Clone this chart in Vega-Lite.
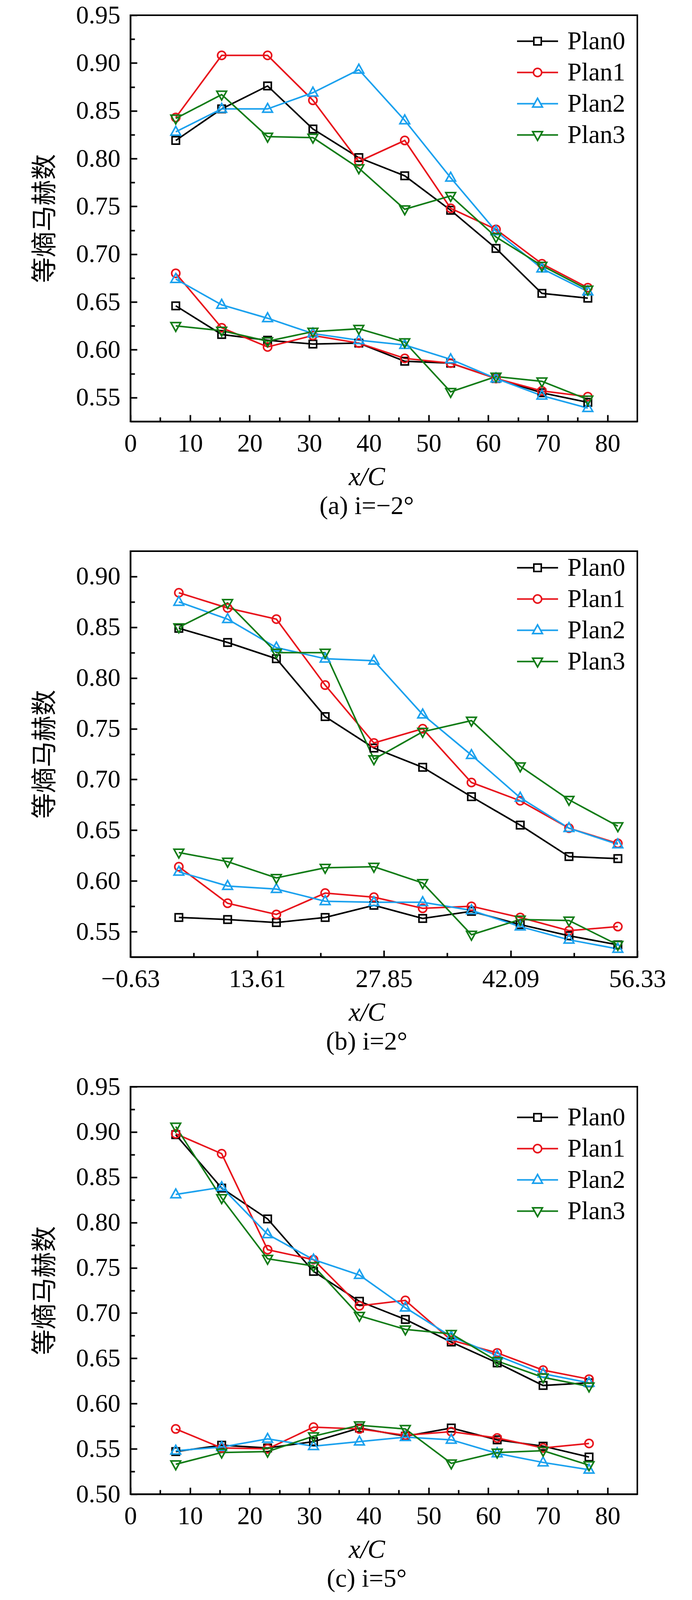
{
  "$schema": "https://vega.github.io/schema/vega-lite/v6.json",
  "background": "white",
  "padding": {"left": 80, "top": 5, "right": 10, "bottom": 0},
  "datasets": {
    "mach": [
      {"p": "a", "plan": "Plan0", "x": 7.6, "hi": 0.819, "lo": 0.646},
      {"p": "a", "plan": "Plan0", "x": 15.3, "hi": 0.852, "lo": 0.616},
      {"p": "a", "plan": "Plan0", "x": 23.0, "hi": 0.876, "lo": 0.610},
      {"p": "a", "plan": "Plan0", "x": 30.6, "hi": 0.831, "lo": 0.606},
      {"p": "a", "plan": "Plan0", "x": 38.3, "hi": 0.801, "lo": 0.607},
      {"p": "a", "plan": "Plan0", "x": 46.0, "hi": 0.782, "lo": 0.588},
      {"p": "a", "plan": "Plan0", "x": 53.7, "hi": 0.746, "lo": 0.586},
      {"p": "a", "plan": "Plan0", "x": 61.3, "hi": 0.706, "lo": 0.570},
      {"p": "a", "plan": "Plan0", "x": 69.0, "hi": 0.659, "lo": 0.555},
      {"p": "a", "plan": "Plan0", "x": 76.7, "hi": 0.654, "lo": 0.545},
      {"p": "a", "plan": "Plan1", "x": 7.6, "hi": 0.843, "lo": 0.680},
      {"p": "a", "plan": "Plan1", "x": 15.3, "hi": 0.908, "lo": 0.623},
      {"p": "a", "plan": "Plan1", "x": 23.0, "hi": 0.908, "lo": 0.603},
      {"p": "a", "plan": "Plan1", "x": 30.6, "hi": 0.861, "lo": 0.615},
      {"p": "a", "plan": "Plan1", "x": 38.3, "hi": 0.797, "lo": 0.607},
      {"p": "a", "plan": "Plan1", "x": 46.0, "hi": 0.819, "lo": 0.591},
      {"p": "a", "plan": "Plan1", "x": 53.7, "hi": 0.748, "lo": 0.586},
      {"p": "a", "plan": "Plan1", "x": 61.3, "hi": 0.726, "lo": 0.570},
      {"p": "a", "plan": "Plan1", "x": 69.0, "hi": 0.690, "lo": 0.557},
      {"p": "a", "plan": "Plan1", "x": 76.7, "hi": 0.665, "lo": 0.551},
      {"p": "a", "plan": "Plan2", "x": 7.6, "hi": 0.828, "lo": 0.674},
      {"p": "a", "plan": "Plan2", "x": 15.3, "hi": 0.852, "lo": 0.647},
      {"p": "a", "plan": "Plan2", "x": 23.0, "hi": 0.852, "lo": 0.633},
      {"p": "a", "plan": "Plan2", "x": 30.6, "hi": 0.869, "lo": 0.617},
      {"p": "a", "plan": "Plan2", "x": 38.3, "hi": 0.893, "lo": 0.610},
      {"p": "a", "plan": "Plan2", "x": 46.0, "hi": 0.840, "lo": 0.605},
      {"p": "a", "plan": "Plan2", "x": 53.7, "hi": 0.780, "lo": 0.590},
      {"p": "a", "plan": "Plan2", "x": 61.3, "hi": 0.724, "lo": 0.570},
      {"p": "a", "plan": "Plan2", "x": 69.0, "hi": 0.685, "lo": 0.552},
      {"p": "a", "plan": "Plan2", "x": 76.7, "hi": 0.661, "lo": 0.539},
      {"p": "a", "plan": "Plan3", "x": 7.6, "hi": 0.842, "lo": 0.625},
      {"p": "a", "plan": "Plan3", "x": 15.3, "hi": 0.867, "lo": 0.620},
      {"p": "a", "plan": "Plan3", "x": 23.0, "hi": 0.823, "lo": 0.609},
      {"p": "a", "plan": "Plan3", "x": 30.6, "hi": 0.822, "lo": 0.619},
      {"p": "a", "plan": "Plan3", "x": 38.3, "hi": 0.790, "lo": 0.622},
      {"p": "a", "plan": "Plan3", "x": 46.0, "hi": 0.747, "lo": 0.608},
      {"p": "a", "plan": "Plan3", "x": 53.7, "hi": 0.761, "lo": 0.556},
      {"p": "a", "plan": "Plan3", "x": 61.3, "hi": 0.718, "lo": 0.572},
      {"p": "a", "plan": "Plan3", "x": 69.0, "hi": 0.688, "lo": 0.567},
      {"p": "a", "plan": "Plan3", "x": 76.7, "hi": 0.663, "lo": 0.548},

      {"p": "b", "plan": "Plan0", "x": 4.81, "hi": 0.849, "lo": 0.564},
      {"p": "b", "plan": "Plan0", "x": 10.29, "hi": 0.835, "lo": 0.562},
      {"p": "b", "plan": "Plan0", "x": 15.77, "hi": 0.819, "lo": 0.559},
      {"p": "b", "plan": "Plan0", "x": 21.25, "hi": 0.762, "lo": 0.564},
      {"p": "b", "plan": "Plan0", "x": 26.73, "hi": 0.731, "lo": 0.576},
      {"p": "b", "plan": "Plan0", "x": 32.21, "hi": 0.712, "lo": 0.563},
      {"p": "b", "plan": "Plan0", "x": 37.69, "hi": 0.683, "lo": 0.570},
      {"p": "b", "plan": "Plan0", "x": 43.17, "hi": 0.655, "lo": 0.557},
      {"p": "b", "plan": "Plan0", "x": 48.65, "hi": 0.624, "lo": 0.546},
      {"p": "b", "plan": "Plan0", "x": 54.14, "hi": 0.622, "lo": 0.537},
      {"p": "b", "plan": "Plan1", "x": 4.81, "hi": 0.884, "lo": 0.614},
      {"p": "b", "plan": "Plan1", "x": 10.29, "hi": 0.869, "lo": 0.578},
      {"p": "b", "plan": "Plan1", "x": 15.77, "hi": 0.858, "lo": 0.567},
      {"p": "b", "plan": "Plan1", "x": 21.25, "hi": 0.793, "lo": 0.588},
      {"p": "b", "plan": "Plan1", "x": 26.73, "hi": 0.736, "lo": 0.584},
      {"p": "b", "plan": "Plan1", "x": 32.21, "hi": 0.750, "lo": 0.573},
      {"p": "b", "plan": "Plan1", "x": 37.69, "hi": 0.697, "lo": 0.575},
      {"p": "b", "plan": "Plan1", "x": 43.17, "hi": 0.679, "lo": 0.564},
      {"p": "b", "plan": "Plan1", "x": 48.65, "hi": 0.652, "lo": 0.551},
      {"p": "b", "plan": "Plan1", "x": 54.14, "hi": 0.637, "lo": 0.555},
      {"p": "b", "plan": "Plan2", "x": 4.81, "hi": 0.875, "lo": 0.609},
      {"p": "b", "plan": "Plan2", "x": 10.29, "hi": 0.858, "lo": 0.595},
      {"p": "b", "plan": "Plan2", "x": 15.77, "hi": 0.830, "lo": 0.592},
      {"p": "b", "plan": "Plan2", "x": 21.25, "hi": 0.819, "lo": 0.580},
      {"p": "b", "plan": "Plan2", "x": 26.73, "hi": 0.817, "lo": 0.579},
      {"p": "b", "plan": "Plan2", "x": 32.21, "hi": 0.764, "lo": 0.579},
      {"p": "b", "plan": "Plan2", "x": 37.69, "hi": 0.724, "lo": 0.571},
      {"p": "b", "plan": "Plan2", "x": 43.17, "hi": 0.682, "lo": 0.555},
      {"p": "b", "plan": "Plan2", "x": 48.65, "hi": 0.652, "lo": 0.542},
      {"p": "b", "plan": "Plan2", "x": 54.14, "hi": 0.636, "lo": 0.533},
      {"p": "b", "plan": "Plan3", "x": 4.81, "hi": 0.850, "lo": 0.628},
      {"p": "b", "plan": "Plan3", "x": 10.29, "hi": 0.874, "lo": 0.619},
      {"p": "b", "plan": "Plan3", "x": 15.77, "hi": 0.825, "lo": 0.603},
      {"p": "b", "plan": "Plan3", "x": 21.25, "hi": 0.825, "lo": 0.613},
      {"p": "b", "plan": "Plan3", "x": 26.73, "hi": 0.720, "lo": 0.614},
      {"p": "b", "plan": "Plan3", "x": 32.21, "hi": 0.747, "lo": 0.598},
      {"p": "b", "plan": "Plan3", "x": 37.69, "hi": 0.758, "lo": 0.547},
      {"p": "b", "plan": "Plan3", "x": 43.17, "hi": 0.713, "lo": 0.562},
      {"p": "b", "plan": "Plan3", "x": 48.65, "hi": 0.680, "lo": 0.561},
      {"p": "b", "plan": "Plan3", "x": 54.14, "hi": 0.654, "lo": 0.537},

      {"p": "c", "plan": "Plan0", "x": 7.6, "hi": 0.897, "lo": 0.547},
      {"p": "c", "plan": "Plan0", "x": 15.3, "hi": 0.838, "lo": 0.554},
      {"p": "c", "plan": "Plan0", "x": 23.0, "hi": 0.804, "lo": 0.551},
      {"p": "c", "plan": "Plan0", "x": 30.7, "hi": 0.746, "lo": 0.558},
      {"p": "c", "plan": "Plan0", "x": 38.4, "hi": 0.713, "lo": 0.573},
      {"p": "c", "plan": "Plan0", "x": 46.1, "hi": 0.693, "lo": 0.564},
      {"p": "c", "plan": "Plan0", "x": 53.8, "hi": 0.668, "lo": 0.573},
      {"p": "c", "plan": "Plan0", "x": 61.5, "hi": 0.645, "lo": 0.560},
      {"p": "c", "plan": "Plan0", "x": 69.2, "hi": 0.620, "lo": 0.553},
      {"p": "c", "plan": "Plan0", "x": 76.9, "hi": 0.623, "lo": 0.541},
      {"p": "c", "plan": "Plan1", "x": 7.6, "hi": 0.898, "lo": 0.572},
      {"p": "c", "plan": "Plan1", "x": 15.3, "hi": 0.876, "lo": 0.551},
      {"p": "c", "plan": "Plan1", "x": 23.0, "hi": 0.770, "lo": 0.550},
      {"p": "c", "plan": "Plan1", "x": 30.7, "hi": 0.759, "lo": 0.574},
      {"p": "c", "plan": "Plan1", "x": 38.4, "hi": 0.708, "lo": 0.572},
      {"p": "c", "plan": "Plan1", "x": 46.1, "hi": 0.714, "lo": 0.565},
      {"p": "c", "plan": "Plan1", "x": 53.8, "hi": 0.670, "lo": 0.569},
      {"p": "c", "plan": "Plan1", "x": 61.5, "hi": 0.656, "lo": 0.562},
      {"p": "c", "plan": "Plan1", "x": 69.2, "hi": 0.637, "lo": 0.551},
      {"p": "c", "plan": "Plan1", "x": 76.9, "hi": 0.627, "lo": 0.556},
      {"p": "c", "plan": "Plan2", "x": 7.6, "hi": 0.831, "lo": 0.548},
      {"p": "c", "plan": "Plan2", "x": 15.3, "hi": 0.839, "lo": 0.552},
      {"p": "c", "plan": "Plan2", "x": 23.0, "hi": 0.787, "lo": 0.561},
      {"p": "c", "plan": "Plan2", "x": 30.7, "hi": 0.759, "lo": 0.553},
      {"p": "c", "plan": "Plan2", "x": 38.4, "hi": 0.742, "lo": 0.558},
      {"p": "c", "plan": "Plan2", "x": 46.1, "hi": 0.706, "lo": 0.563},
      {"p": "c", "plan": "Plan2", "x": 53.8, "hi": 0.674, "lo": 0.560},
      {"p": "c", "plan": "Plan2", "x": 61.5, "hi": 0.653, "lo": 0.545},
      {"p": "c", "plan": "Plan2", "x": 69.2, "hi": 0.633, "lo": 0.535},
      {"p": "c", "plan": "Plan2", "x": 76.9, "hi": 0.623, "lo": 0.527},
      {"p": "c", "plan": "Plan3", "x": 7.6, "hi": 0.906, "lo": 0.533},
      {"p": "c", "plan": "Plan3", "x": 15.3, "hi": 0.827, "lo": 0.546},
      {"p": "c", "plan": "Plan3", "x": 23.0, "hi": 0.760, "lo": 0.547},
      {"p": "c", "plan": "Plan3", "x": 30.7, "hi": 0.752, "lo": 0.564},
      {"p": "c", "plan": "Plan3", "x": 38.4, "hi": 0.697, "lo": 0.576},
      {"p": "c", "plan": "Plan3", "x": 46.1, "hi": 0.682, "lo": 0.572},
      {"p": "c", "plan": "Plan3", "x": 53.8, "hi": 0.677, "lo": 0.534},
      {"p": "c", "plan": "Plan3", "x": 61.5, "hi": 0.647, "lo": 0.546},
      {"p": "c", "plan": "Plan3", "x": 69.2, "hi": 0.629, "lo": 0.548},
      {"p": "c", "plan": "Plan3", "x": 76.9, "hi": 0.619, "lo": 0.532}
    ]
  },
  "spacing": 332,
  "bounds": "flush",
  "vconcat": [
    {
      "width": 1298,
      "height": 1040,
      "data": {"name": "mach"},
      "transform": [
        {"filter": "datum.p === 'a'"},
        {"fold": ["hi", "lo"], "as": ["curve", "y"]}
      ],
      "title": {"text": "(a) i=−2°", "dx": -44, "offset": 10},
      "encoding": {
        "x": {
          "field": "x", "type": "quantitative",
          "scale": {"domain": [0, 85], "nice": false, "zero": false},
          "axis": {
            "title": "x/C", "titleX": 605,
            "values": [0, 5, 10, 15, 20, 25, 30, 35, 40, 45, 50, 55, 60, 65, 70, 75, 80],
            "labelExpr": "datum.value % 10 === 0 ? datum.label : ''",
            "tickSize": {"condition": {"test": "datum.value % 10 === 0", "value": -17}, "value": -11}
          }
        },
        "y": {
          "field": "y", "type": "quantitative",
          "scale": {"domain": [0.525, 0.95], "nice": false, "zero": false},
          "axis": {
            "title": "等熵马赫数",
            "values": [0.55, 0.575, 0.6, 0.625, 0.65, 0.675, 0.7, 0.725, 0.75, 0.775, 0.8, 0.825, 0.85, 0.875, 0.9, 0.925, 0.95],
            "labelExpr": "round(datum.value * 1000) % 50 === 0 ? format(datum.value, '.2f') : ''",
            "tickSize": {"condition": {"test": "round(datum.value * 1000) % 50 === 0", "value": -17}, "value": -11}
          }
        }
      },
      "resolve": {"scale": {"color": "independent", "shape": "independent"}},
      "layer": [
        {
          "mark": {"type": "line", "strokeWidth": 4},
          "encoding": {
            "color": {"field": "plan", "type": "nominal", "legend": null,
              "scale": {"domain": ["Plan0", "Plan1", "Plan2", "Plan3"], "range": ["#000000", "#e8141c", "#1ba1ee", "#127c17"]}},
            "detail": {"field": "curve"}
          }
        },
        {
          "mark": {"type": "point", "filled": false, "strokeWidth": 4, "size": 400, "opacity": 1},
          "encoding": {
            "color": {"field": "plan", "type": "nominal", "legend": null,
              "scale": {"domain": ["Plan0", "Plan1", "Plan2", "Plan3"], "range": ["#000000", "#e8141c", "#1ba1ee", "#127c17"]}},
            "shape": {"field": "plan", "type": "nominal", "legend": null,
              "scale": {"domain": ["Plan0", "Plan1", "Plan2", "Plan3"], "range": [
                "M-0.95,-0.95H0.95V0.95H-0.95Z",
                "M-1.05,0A1.05,1.05 0 1,0 1.05,0A1.05,1.05 0 1,0 -1.05,0Z",
                "M0,-1.4L1.25,0.85L-1.25,0.85Z",
                "M0,1.4L1.25,-0.85L-1.25,-0.85Z"]}}
          }
        },
        {
          "transform": [{"filter": "false"}],
          "mark": {"type": "point", "filled": false, "strokeWidth": 4, "size": 400, "opacity": 1},
          "encoding": {
            "color": {"field": "plan", "type": "nominal",
              "scale": {"domain": ["Plan0", "Plan1", "Plan2", "Plan3"], "range": ["#000000", "#e8141c", "#1ba1ee", "#127c17"]},
              "legend": {"title": null, "orient": "none", "legendX": 1010, "legendY": 34}},
            "shape": {"field": "plan", "type": "nominal",
              "scale": {"domain": ["Plan0", "Plan1", "Plan2", "Plan3"], "range": [
                "M-5.25,0H-0.95M0.95,0H5.25M-0.95,-0.95H0.95V0.95H-0.95Z",
                "M-5.25,0H-1.05M1.05,0H5.25M-1.05,0A1.05,1.05 0 1,0 1.05,0A1.05,1.05 0 1,0 -1.05,0Z",
                "M-5.25,0H-0.78M0.78,0H5.25M0,-1.4L1.25,0.85L-1.25,0.85Z",
                "M-5.25,0H-0.78M0.78,0H5.25M0,1.4L1.25,-0.85L-1.25,-0.85Z"]},
              "legend": {"title": null, "orient": "none", "legendX": 1010, "legendY": 34}}
          }
        }
      ]
    },
    {
      "width": 1298,
      "height": 1039,
      "data": {"name": "mach"},
      "transform": [
        {"filter": "datum.p === 'b'"},
        {"fold": ["hi", "lo"], "as": ["curve", "y"]}
      ],
      "title": {"text": "(b) i=2°", "dx": -44, "offset": 10},
      "encoding": {
        "x": {
          "field": "x", "type": "quantitative",
          "scale": {"domain": [-0.63, 56.33], "nice": false, "zero": false},
          "axis": {
            "title": "x/C", "titleX": 605,
            "values": [-0.63, 6.49, 13.61, 20.73, 27.85, 34.97, 42.09, 49.21, 56.33],
            "labelExpr": "datum.value === -0.63 ? '−0.63' : (indexof([13.61, 27.85, 42.09, 56.33], datum.value) >= 0 ? format(datum.value, '.2f') : '')",
            "tickSize": {"condition": {"test": "indexof([-0.63, 13.61, 27.85, 42.09, 56.33], datum.value) >= 0", "value": -17}, "value": -11}
          }
        },
        "y": {
          "field": "y", "type": "quantitative",
          "scale": {"domain": [0.525, 0.925], "nice": false, "zero": false},
          "axis": {
            "title": "等熵马赫数",
            "values": [0.55, 0.575, 0.6, 0.625, 0.65, 0.675, 0.7, 0.725, 0.75, 0.775, 0.8, 0.825, 0.85, 0.875, 0.9],
            "labelExpr": "round(datum.value * 1000) % 50 === 0 ? format(datum.value, '.2f') : ''",
            "tickSize": {"condition": {"test": "round(datum.value * 1000) % 50 === 0", "value": -17}, "value": -11}
          }
        }
      },
      "resolve": {"scale": {"color": "independent", "shape": "independent"}},
      "layer": [
        {
          "mark": {"type": "line", "strokeWidth": 4},
          "encoding": {
            "color": {"field": "plan", "type": "nominal", "legend": null,
              "scale": {"domain": ["Plan0", "Plan1", "Plan2", "Plan3"], "range": ["#000000", "#e8141c", "#1ba1ee", "#127c17"]}},
            "detail": {"field": "curve"}
          }
        },
        {
          "mark": {"type": "point", "filled": false, "strokeWidth": 4, "size": 400, "opacity": 1},
          "encoding": {
            "color": {"field": "plan", "type": "nominal", "legend": null,
              "scale": {"domain": ["Plan0", "Plan1", "Plan2", "Plan3"], "range": ["#000000", "#e8141c", "#1ba1ee", "#127c17"]}},
            "shape": {"field": "plan", "type": "nominal", "legend": null,
              "scale": {"domain": ["Plan0", "Plan1", "Plan2", "Plan3"], "range": [
                "M-0.95,-0.95H0.95V0.95H-0.95Z",
                "M-1.05,0A1.05,1.05 0 1,0 1.05,0A1.05,1.05 0 1,0 -1.05,0Z",
                "M0,-1.4L1.25,0.85L-1.25,0.85Z",
                "M0,1.4L1.25,-0.85L-1.25,-0.85Z"]}}
          }
        },
        {
          "transform": [{"filter": "false"}],
          "mark": {"type": "point", "filled": false, "strokeWidth": 4, "size": 400, "opacity": 1},
          "encoding": {
            "color": {"field": "plan", "type": "nominal",
              "scale": {"domain": ["Plan0", "Plan1", "Plan2", "Plan3"], "range": ["#000000", "#e8141c", "#1ba1ee", "#127c17"]},
              "legend": {"title": null, "orient": "none", "legendX": 1010, "legendY": 10}},
            "shape": {"field": "plan", "type": "nominal",
              "scale": {"domain": ["Plan0", "Plan1", "Plan2", "Plan3"], "range": [
                "M-5.25,0H-0.95M0.95,0H5.25M-0.95,-0.95H0.95V0.95H-0.95Z",
                "M-5.25,0H-1.05M1.05,0H5.25M-1.05,0A1.05,1.05 0 1,0 1.05,0A1.05,1.05 0 1,0 -1.05,0Z",
                "M-5.25,0H-0.78M0.78,0H5.25M0,-1.4L1.25,0.85L-1.25,0.85Z",
                "M-5.25,0H-0.78M0.78,0H5.25M0,1.4L1.25,-0.85L-1.25,-0.85Z"]},
              "legend": {"title": null, "orient": "none", "legendX": 1010, "legendY": 10}}
          }
        }
      ]
    },
    {
      "width": 1298,
      "height": 1043,
      "data": {"name": "mach"},
      "transform": [
        {"filter": "datum.p === 'c'"},
        {"fold": ["hi", "lo"], "as": ["curve", "y"]}
      ],
      "title": {"text": "(c) i=5°", "dx": -44, "offset": 10},
      "encoding": {
        "x": {
          "field": "x", "type": "quantitative",
          "scale": {"domain": [0, 85], "nice": false, "zero": false},
          "axis": {
            "title": "x/C", "titleX": 605,
            "values": [0, 5, 10, 15, 20, 25, 30, 35, 40, 45, 50, 55, 60, 65, 70, 75, 80],
            "labelExpr": "datum.value % 10 === 0 ? datum.label : ''",
            "tickSize": {"condition": {"test": "datum.value % 10 === 0", "value": -17}, "value": -11}
          }
        },
        "y": {
          "field": "y", "type": "quantitative",
          "scale": {"domain": [0.5, 0.95], "nice": false, "zero": false},
          "axis": {
            "title": "等熵马赫数",
            "values": [0.5, 0.525, 0.55, 0.575, 0.6, 0.625, 0.65, 0.675, 0.7, 0.725, 0.75, 0.775, 0.8, 0.825, 0.85, 0.875, 0.9, 0.925, 0.95],
            "labelExpr": "round(datum.value * 1000) % 50 === 0 ? format(datum.value, '.2f') : ''",
            "tickSize": {"condition": {"test": "round(datum.value * 1000) % 50 === 0", "value": -17}, "value": -11}
          }
        }
      },
      "resolve": {"scale": {"color": "independent", "shape": "independent"}},
      "layer": [
        {
          "mark": {"type": "line", "strokeWidth": 4},
          "encoding": {
            "color": {"field": "plan", "type": "nominal", "legend": null,
              "scale": {"domain": ["Plan0", "Plan1", "Plan2", "Plan3"], "range": ["#000000", "#e8141c", "#1ba1ee", "#127c17"]}},
            "detail": {"field": "curve"}
          }
        },
        {
          "mark": {"type": "point", "filled": false, "strokeWidth": 4, "size": 400, "opacity": 1},
          "encoding": {
            "color": {"field": "plan", "type": "nominal", "legend": null,
              "scale": {"domain": ["Plan0", "Plan1", "Plan2", "Plan3"], "range": ["#000000", "#e8141c", "#1ba1ee", "#127c17"]}},
            "shape": {"field": "plan", "type": "nominal", "legend": null,
              "scale": {"domain": ["Plan0", "Plan1", "Plan2", "Plan3"], "range": [
                "M-0.95,-0.95H0.95V0.95H-0.95Z",
                "M-1.05,0A1.05,1.05 0 1,0 1.05,0A1.05,1.05 0 1,0 -1.05,0Z",
                "M0,-1.4L1.25,0.85L-1.25,0.85Z",
                "M0,1.4L1.25,-0.85L-1.25,-0.85Z"]}}
          }
        },
        {
          "transform": [{"filter": "false"}],
          "mark": {"type": "point", "filled": false, "strokeWidth": 4, "size": 400, "opacity": 1},
          "encoding": {
            "color": {"field": "plan", "type": "nominal",
              "scale": {"domain": ["Plan0", "Plan1", "Plan2", "Plan3"], "range": ["#000000", "#e8141c", "#1ba1ee", "#127c17"]},
              "legend": {"title": null, "orient": "none", "legendX": 1010, "legendY": 46}},
            "shape": {"field": "plan", "type": "nominal",
              "scale": {"domain": ["Plan0", "Plan1", "Plan2", "Plan3"], "range": [
                "M-5.25,0H-0.95M0.95,0H5.25M-0.95,-0.95H0.95V0.95H-0.95Z",
                "M-5.25,0H-1.05M1.05,0H5.25M-1.05,0A1.05,1.05 0 1,0 1.05,0A1.05,1.05 0 1,0 -1.05,0Z",
                "M-5.25,0H-0.78M0.78,0H5.25M0,-1.4L1.25,0.85L-1.25,0.85Z",
                "M-5.25,0H-0.78M0.78,0H5.25M0,1.4L1.25,-0.85L-1.25,-0.85Z"]},
              "legend": {"title": null, "orient": "none", "legendX": 1010, "legendY": 46}}
          }
        }
      ]
    }
  ],
  "config": {
    "font": "Liberation Serif",
    "view": {"stroke": "#000000", "strokeWidth": 4},
    "axis": {
      "grid": false,
      "domainColor": "#000000",
      "domainWidth": 4,
      "tickColor": "#000000",
      "tickWidth": 4,
      "labelFont": "Liberation Serif",
      "labelFontSize": 65,
      "labelColor": "#000000",
      "labelFlush": false,
      "labelOverlap": false,
      "titleColor": "#000000",
      "titleFontWeight": "normal"
    },
    "axisX": {
      "labelPadding": 42,
      "titleFont": "Liberation Serif",
      "titleFontStyle": "italic",
      "titleFontSize": 67,
      "titlePadding": 14
    },
    "axisY": {
      "labelPadding": 43,
      "titleFont": "Noto Sans CJK SC",
      "titleFontSize": 66,
      "titlePadding": 45
    },
    "legend": {
      "labelFont": "Liberation Serif",
      "labelFontSize": 65,
      "labelColor": "#000000",
      "labelOffset": 44,
      "rowPadding": 14,
      "symbolSize": 400,
      "symbolStrokeWidth": 4,
      "padding": 0
    },
    "title": {
      "orient": "bottom",
      "anchor": "middle",
      "font": "Liberation Serif",
      "fontSize": 66,
      "fontWeight": "normal",
      "color": "#000000"
    }
  }
}
